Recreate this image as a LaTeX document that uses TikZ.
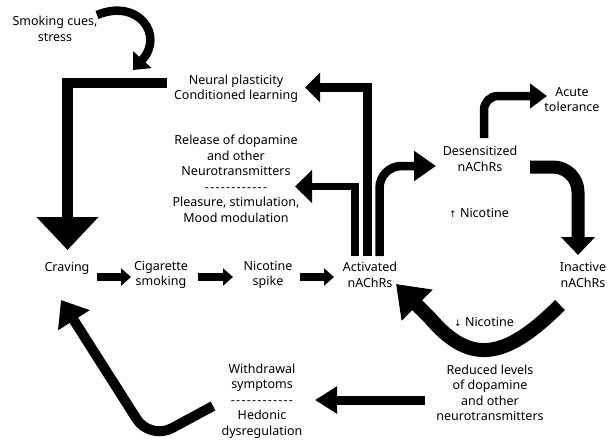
\documentclass[tikz,border=0pt]{standalone}
\usepackage{fontspec}
\setmainfont{Noto Sans}
\newfontfamily\arrowfont{DejaVu Sans}
\usetikzlibrary{arrows.meta}
\newcommand\mydashes{-\kern1.25pt-\kern1.25pt-\kern1.25pt-\kern1.25pt-\kern1.25pt-\kern1.25pt-\kern1.25pt-\kern1.25pt-\kern1.25pt-\kern1.25pt-\kern1.25pt-}
\begin{document}
\begin{tikzpicture}[x=1pt,y=-1pt,
  lbl/.style={align=center, font=\fontsize{12.5}{15.5}\selectfont, inner sep=0pt},
  arr/.style={draw=black, line width=#1, line join=miter},
]
\useasboundingbox (0,0) rectangle (612,439);
% texts
\node[lbl] (cues) at (55,29) {Smoking cues,\\stress};
\node[lbl] (neural) at (236,88.5) {Neural plasticity\\Conditioned learning};
\node[lbl] (release) at (236,179) {Release of dopamine\\and other\\Neurotransmitters\\\mydashes\\Pleasure, stimulation,\\Mood modulation};
\node[lbl] (desens) at (480,159) {Desensitized\\nAChRs};
\node[lbl] (acute) at (572,99.5) {Acute\\tolerance};
\node[lbl] (up) at (479,213) {{\arrowfont\small ↑} Nicotine};
\node[lbl] (craving) at (67,268) {Craving};
\node[lbl] (cig) at (161,275) {Cigarette\\smoking};
\node[lbl] (spike) at (268,275) {Nicotine\\spike};
\node[lbl] (activated) at (370,275) {Activated\\nAChRs};
\node[lbl] (inactive) at (583,275) {Inactive\\nAChRs};
\node[lbl] (down) at (484,322) {{\arrowfont\small ↓} Nicotine};
\node[lbl] (reduced) at (490,393) {Reduced levels\\of dopamine\\and other\\neurotransmitters};
\node[lbl] (withdrawal) at (262,401) {Withdrawal\\symptoms\\\mydashes\\Hedonic\\dysregulation};
% connector coordinates
\coordinate (cuesS) at (97,15);
\coordinate (cuesE) at (133,70);
\coordinate (lS) at (167,83);
\coordinate (lC) at (67.5,83);
\coordinate (crTop) at (67.5,250);
\coordinate (b1) at (355,256);
\coordinate (b1c) at (355,186.5);
\coordinate (relE) at (295,186.5);
\coordinate (b2) at (367.5,256);
\coordinate (b2c) at (367.5,87.5);
\coordinate (neuE) at (305,87.5);
\coordinate (b3) at (379.5,256);
\coordinate (b3c) at (379.5,166);
\coordinate (desW) at (436,166);
\coordinate (desN) at (484,138);
\coordinate (desNc) at (484,96);
\coordinate (acuW) at (547,96);
\coordinate (desE) at (530,167);
\coordinate (desEc) at (578,167);
\coordinate (inaN) at (578,255);
\coordinate (inaS) at (560,305);
\coordinate (vMid) at (430,318);
\coordinate (actSE) at (396,284);
\coordinate (redW) at (425,400);
\coordinate (witE) at (315,400);
\coordinate (witS) at (213,406);
\coordinate (witC) at (150,440);
\coordinate (crS) at (61,300);
\coordinate (s1) at (97,277);
\coordinate (cigW) at (131,277);
\coordinate (s2) at (198,277);
\coordinate (spW) at (233,277);
\coordinate (s3) at (300,277);
\coordinate (actW) at (334,277);
% connectors
\draw[arr=8.5pt, -{Triangle[length=14pt,width=24pt]}] (cuesS) .. controls (138,-2) and (165,35) .. (cuesE);
\draw[arr=10.5pt, -{Triangle[length=33pt,width=60pt]}] (lS) -- (lC) -- (crTop);
\draw[arr=7.5pt, -{Triangle[length=17pt,width=32pt]}] (b1) -- (b1c) -- (relE);
\draw[arr=8.5pt, -{Triangle[length=15pt,width=29pt]}] (b2) -- (b2c) -- (neuE);
\draw[arr=8.5pt, rounded corners=22pt, -{Triangle[length=22pt,width=29pt]}] (b3) -- (b3c) -- (desW);
\draw[arr=8.5pt, rounded corners=14pt, -{Triangle[length=17pt,width=24pt]}] (desN) -- (desNc) -- (acuW);
\draw[arr=13pt, rounded corners=25pt, -{Triangle[length=18pt,width=33pt]}] (desE) -- (desEc) -- (inaN);
\draw[arr=14pt, -{Triangle[length=30pt,width=42pt]}] (inaS) .. controls (505,360) and (470,365) .. (vMid) -- (actSE);
\draw[arr=9pt, -{Triangle[length=22pt,width=26pt]}] (redW) -- (witE);
\draw[arr=10pt, rounded corners=25pt, -{Triangle[length=24pt,width=36pt]}] (witS) -- (witC) -- (crS);
\draw[arr=8pt, -{Triangle[length=10pt,width=17pt]}] (s1) -- (cigW);
\draw[arr=8pt, -{Triangle[length=10pt,width=17pt]}] (s2) -- (spW);
\draw[arr=8pt, -{Triangle[length=10pt,width=17pt]}] (s3) -- (actW);
\end{tikzpicture}
\end{document}
